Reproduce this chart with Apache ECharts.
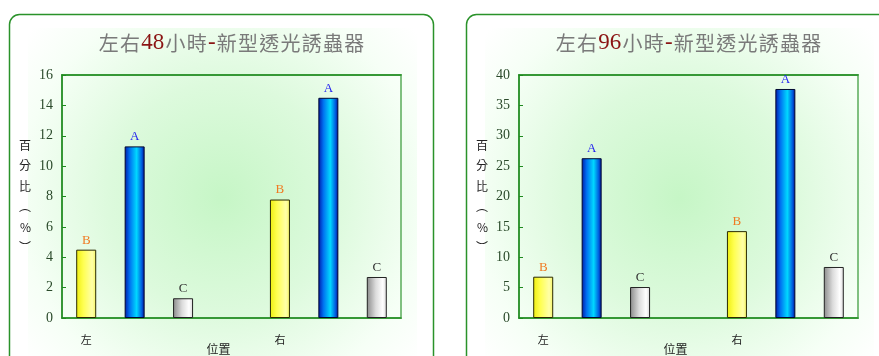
<!DOCTYPE html>
<html><head><meta charset="utf-8">
<script src="https://cdn.jsdelivr.net/npm/echarts@6/dist/echarts.min.js"></script>
<style>html,body{margin:0;padding:0;background:#fff}#c{width:879px;height:356px}</style>
</head><body><div id="c"></div>
<script>
// ---- data ----
const positions = ['左', '右'];
const trapTypes = ['黃', '藍', '白'];
const hoursList = ['48', '96'];
const values48 = [4.5, 11.3, 1.3, 7.8, 14.5, 2.7];
const values96 = [6.8, 26.3, 5.1, 14.3, 37.7, 8.4];
const letters48 = ['B', 'A', 'C', 'B', 'A', 'C'];
const letters96 = ['B', 'A', 'C', 'B', 'A', 'C'];
const yAxis48 = { min: 0, max: 16, interval: 2 };
const yAxis96 = { min: 0, max: 40, interval: 5 };
const xAxisName = '位置';
const yAxisName = '百分比（%）';

// ---- styling ----
const serif = 'Liberation Serif';
const cjk = 'Noto Sans CJK TC';
const HS = '\u200A';
const typeStyles = [
  { color: { type: 'linear', x: 0, y: 0, x2: 1, y2: 0, colorStops: [
      { offset: 0, color: '#eeee10' }, { offset: 0.35, color: '#ffff50' }, { offset: 0.8, color: '#ffffa8' }, { offset: 1, color: '#f4f460' }] },
    borderColor: '#2a2a00', borderWidth: 1 },
  { color: { type: 'linear', x: 0, y: 0, x2: 1, y2: 0, colorStops: [
      { offset: 0, color: '#0018a8' }, { offset: 0.25, color: '#0070f0' }, { offset: 0.6, color: '#00d8ff' }, { offset: 0.85, color: '#0060e0' }, { offset: 1, color: '#000c90' }] },
    borderColor: '#000830', borderWidth: 1 },
  { color: { type: 'linear', x: 0, y: 0, x2: 1, y2: 0, colorStops: [
      { offset: 0, color: '#8a8a8a' }, { offset: 0.45, color: '#dcdcdc' }, { offset: 0.8, color: '#ffffff' }, { offset: 1, color: '#d8d8d8' }] },
    borderColor: '#222', borderWidth: 1 }
];
const letterColors = { A: '#1f1fee', B: '#f07a22', C: '#333333' };

// 7 slots: 3 bars per position, one empty slot between positions
function buildSlots() {
  const cats = [];
  positions.forEach((p, pi) => {
    if (pi > 0) cats.push(' ');
    trapTypes.forEach((t, ti) => cats.push(ti === 0 ? p : p + ti));
  });
  return cats;
}
const categories = buildSlots();

function buildData(values, letters) {
  const out = [];
  let k = 0;
  positions.forEach((p, pi) => {
    if (pi > 0) out.push('-');
    trapTypes.forEach((t, ti) => {
      const letter = letters[k];
      out.push({
        value: values[k],
        itemStyle: typeStyles[ti],
        label: { formatter: letter, color: letterColors[letter] }
      });
      k++;
    });
  });
  return out;
}
const spaced = s => s.split('').join(HS);

const grids = [
  { left: 62, top: 75, width: 339, height: 243 },
  { left: 519, top: 75, width: 339, height: 243 }
];
const datasets = [
  { hours: hoursList[0], values: values48, letters: letters48, y: yAxis48 },
  { hours: hoursList[1], values: values96, letters: letters96, y: yAxis96 }
];

const xAxes = [], yAxes = [], series = [], graphics = [];
datasets.forEach((d, i) => {
  xAxes.push({
    gridIndex: i, type: 'category', data: categories,
    axisLine: { lineStyle: { color: '#1e8a1e', width: 1.5 } },
    axisTick: { show: false },
    axisLabel: { interval: 0, margin: 16, color: '#222', fontFamily: cjk, fontSize: 11,
      formatter: v => positions.includes(v) ? v : '' }
  });
  xAxes.push({
    gridIndex: i, type: 'category', data: categories, position: 'top',
    axisLine: { lineStyle: { color: '#1e8a1e', width: 1.5 } },
    axisTick: { show: false }, axisLabel: { show: false }
  });
  yAxes.push({
    gridIndex: i, type: 'value', min: d.y.min, max: d.y.max, interval: d.y.interval,
    splitLine: { show: false },
    axisLine: { show: true, lineStyle: { color: '#1e8a1e', width: 1.5 } },
    axisTick: { show: true, inside: true, length: 4, lineStyle: { color: '#1e8a1e' } },
    axisLabel: { margin: 9, color: '#2a4a2a', fontFamily: serif, fontSize: 14 },
    name: yAxisName.split('').map(c => c === '（' ? '︵' : c === '）' ? '︶' : c).join('\n'),
    nameLocation: 'middle', nameRotate: 0, nameGap: 31,
    nameTextStyle: { fontFamily: cjk, fontSize: 12, color: '#222', lineHeight: 20.5 }
  });
  series.push({
    type: 'bar', xAxisIndex: i * 2, yAxisIndex: i, barWidth: 20,
    data: buildData(d.values, d.letters),
    label: { show: true, position: 'top', distance: 3, fontFamily: serif, fontSize: 13 },
    z: 3
  });
  const g = grids[i];
  const cx = g.left + g.width / 2;
  // background gradient
  graphics.push({
    type: 'rect', z: -100, silent: true,
    shape: { x: g.left - 34, y: 28, width: g.width + 50, height: 340 },
    style: { fill: { type: 'radial', x: 0.5, y: 0.5, r: 0.75, colorStops: [
      { offset: 0, color: '#c6f6c6' }, { offset: 0.45, color: '#ddfadd' }, { offset: 0.8, color: '#f6fff6' }, { offset: 1, color: '#ffffff' }] } }
  });
  // panel border
  graphics.push({
    type: 'rect', z: 10, silent: true,
    shape: { x: i === 0 ? 9.5 : 466.5, y: 14.5, width: i === 0 ? 424 : 500, height: 420, r: 10 },
    style: { fill: 'none', stroke: '#2a922a', lineWidth: 1.5 }
  });
  // title
  graphics.push({
    type: 'text', z: 10, x: cx, y: 43,
    style: {
      text: '{g|' + spaced('左右') + HS + '}{r|' + d.hours + '}{g|' + HS + spaced('小時') + HS + '}{r|-}{g|' + HS + spaced('新型透光誘蟲器') + '}',
      align: 'center', verticalAlign: 'middle',
      rich: {
        g: { fontFamily: cjk, fontSize: 20, fill: '#7a7a7a', color: '#7a7a7a' },
        r: { fontFamily: serif, fontSize: 23, fill: '#8b1414', color: '#8b1414' }
      }
    }
  });
  // x axis name
  graphics.push({
    type: 'text', z: 10, x: cx - 13, y: 349,
    style: { text: xAxisName, align: 'center', verticalAlign: 'middle', fontFamily: cjk, fontSize: 12, fill: '#222' }
  });
});

const chart = echarts.init(document.getElementById('c'));
chart.setOption({
  animation: false,
  grid: grids.map(g => Object.assign({ show: true, borderColor: '#80c080', borderWidth: 2, backgroundColor: 'transparent' }, g)),
  xAxis: xAxes, yAxis: yAxes, series: series,
  graphic: { elements: graphics }
});
</script></body></html>
